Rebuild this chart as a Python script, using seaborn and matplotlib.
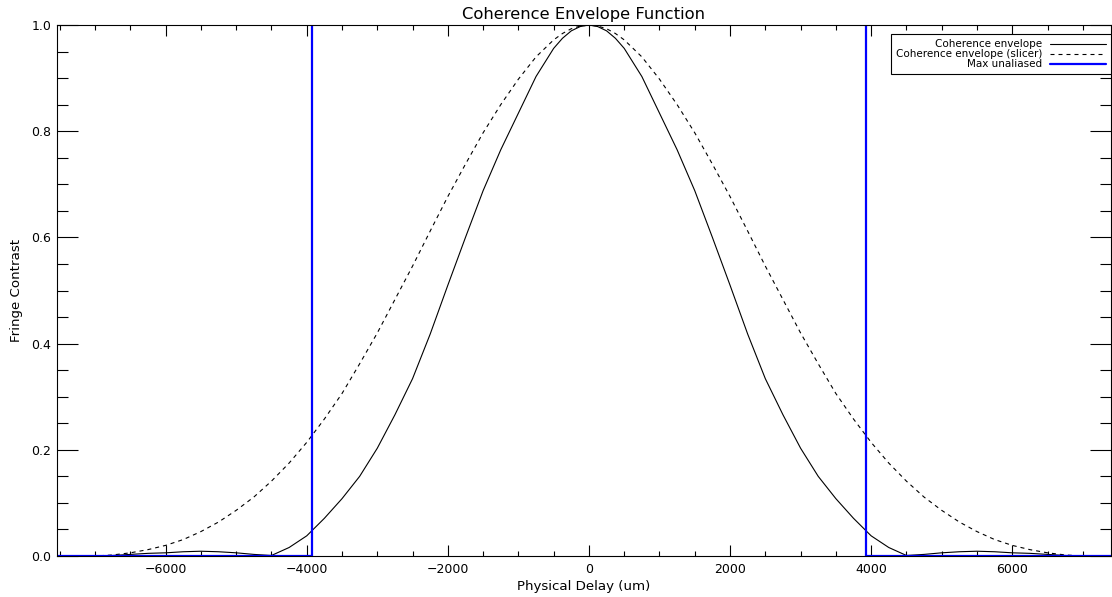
import numpy as np
import pandas as pd
import matplotlib
matplotlib.use("Agg")
import matplotlib.pyplot as plt
from matplotlib.ticker import MultipleLocator, FormatStrFormatter
import seaborn as sns

# ---- data ----
delay = [-7500, -7000, -6750, -6500, -6250, -6000, -5750, -5500, -5250, -5000, -4750, -4500,
         -4250, -4000, -3750, -3500, -3250, -3000, -2750, -2500, -2250, -2000, -1750,
         -1500, -1250, -1000, -750, -500, -375, -250, -125, 0, 125, 250, 375, 500, 750,
         1000, 1250, 1500, 1750, 2000, 2250, 2500, 2750, 3000, 3250, 3500, 3750, 4000,
         4250, 4500, 4750, 5000, 5250, 5500, 5750, 6000, 6250, 6500, 6750, 7000, 7500]

envelope = [0.000, 0.000, 0.001, 0.003, 0.005, 0.006, 0.008, 0.009, 0.008, 0.006, 0.003, 0.001,
            0.016, 0.038, 0.071, 0.108, 0.150, 0.203, 0.266, 0.334, 0.418, 0.510, 0.600,
            0.688, 0.765, 0.834, 0.903, 0.956, 0.975, 0.989, 0.997, 1.000, 0.997, 0.989,
            0.975, 0.956, 0.903, 0.834, 0.765, 0.688, 0.600, 0.510, 0.418, 0.334, 0.266,
            0.203, 0.150, 0.108, 0.071, 0.038, 0.016, 0.001, 0.003, 0.006, 0.008, 0.009,
            0.008, 0.006, 0.005, 0.003, 0.001, 0.000, 0.000]

envelope_slicer = [0.000, 0.000, 0.002, 0.006, 0.012, 0.020, 0.031, 0.046, 0.064, 0.086, 0.111,
                   0.141, 0.175, 0.214, 0.258, 0.306, 0.362, 0.420, 0.483, 0.546, 0.612,
                   0.677, 0.738, 0.797, 0.850, 0.898, 0.940, 0.972, 0.984, 0.993, 0.998,
                   1.000, 0.998, 0.993, 0.984, 0.972, 0.940, 0.898, 0.850, 0.797, 0.738,
                   0.677, 0.612, 0.546, 0.483, 0.420, 0.362, 0.306, 0.258, 0.214, 0.175,
                   0.141, 0.111, 0.086, 0.064, 0.046, 0.031, 0.020, 0.012, 0.006, 0.002,
                   0.000, 0.000]

max_unaliased = 3925          # um
x_range = [-7540, 7400]
y_range = [0.0, 1.0]

labels = ["Coherence envelope", "Coherence envelope (slicer)", "Max unaliased"]
title = "Coherence Envelope Function"
xlabel = "Physical Delay (um)"
ylabel = "Fringe Contrast"

# step path for the "max unaliased" window (0 outside, above the plot inside)
blue_x = [x_range[0], -max_unaliased, -max_unaliased, max_unaliased, max_unaliased, x_range[1]]
blue_y = [0, 0, 2, 2, 0, 0]

df_env = pd.DataFrame({"delay": delay, "value": envelope})
df_sl = pd.DataFrame({"delay": delay, "value": envelope_slicer})
df_blue = pd.DataFrame({"delay": blue_x, "value": blue_y})

sns.set_theme(style="ticks")
plt.rcParams["font.family"] = ["DejaVu Sans"]
plt.rcParams["text.color"] = "black"
plt.rcParams["axes.labelcolor"] = "black"
plt.rcParams["xtick.color"] = "black"
plt.rcParams["ytick.color"] = "black"

fig = plt.figure(figsize=(11.12, 5.97), dpi=100)
ax = fig.add_axes([57 / 1112, 41 / 597, 1054 / 1112, 531 / 597])

sns.lineplot(data=df_env, x="delay", y="value", ax=ax, color="black", lw=0.8,
             sort=False, estimator=None, label=labels[0])
sns.lineplot(data=df_sl, x="delay", y="value", ax=ax, color="black", lw=0.8,
             sort=False, estimator=None, label=labels[1], linestyle=(0, (3.6, 3.6)))
sns.lineplot(data=df_blue, x="delay", y="value", ax=ax, color="#0000ff", lw=1.6,
             sort=False, estimator=None, label=labels[2])

ax.set_xlim(*x_range)
ax.set_ylim(*y_range)
ax.xaxis.set_major_locator(MultipleLocator(2000))
ax.xaxis.set_minor_locator(MultipleLocator(500))
ax.yaxis.set_major_locator(MultipleLocator(0.2))
ax.yaxis.set_minor_locator(MultipleLocator(0.05))
ax.yaxis.set_major_formatter(FormatStrFormatter("%.1f"))

ax.tick_params(axis="x", which="major", direction="in", length=7.6, width=0.8,
               top=True, bottom=True, labelsize=9, pad=5, color="black", labelcolor="black")
ax.tick_params(axis="x", which="minor", direction="in", length=3.8, width=0.8,
               top=True, bottom=True, color="black")
ax.tick_params(axis="y", which="major", direction="in", length=15.2, width=0.8,
               left=True, right=True, labelsize=9, pad=4, color="black", labelcolor="black")
ax.tick_params(axis="y", which="minor", direction="in", length=7.6, width=0.8,
               left=True, right=True, color="black")
for s in ax.spines.values():
    s.set_visible(True)
    s.set_linewidth(0.8)
    s.set_color("black")

ax.set_title(title, fontsize=11.8, pad=4, color="black")
ax.set_xlabel(xlabel, fontsize=9.6, labelpad=3, color="black")
ax.set_ylabel(ylabel, fontsize=9.6, labelpad=6, color="black")

leg = ax.legend(loc="upper right", bbox_to_anchor=(1.0, 1 - 9 / 531), borderaxespad=0,
                markerfirst=False, fontsize=7.45, handlelength=5.4, handletextpad=0.75,
                labelspacing=0.0, fancybox=False, framealpha=1, edgecolor="black",
                borderpad=0.5)
leg.get_frame().set_linewidth(0.8)
for t in leg.get_texts():
    t.set_color("black")

fig.savefig("out.png", dpi=100)
